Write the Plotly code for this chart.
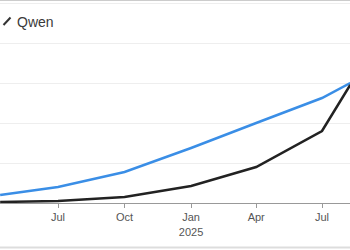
import plotly.graph_objects as go

dates = ["2024-04-12", "2024-07-01", "2024-10-01", "2025-01-01", "2025-04-01", "2025-07-01", "2025-08-09"]
other_vals = [4, 8, 15.5, 27.5, 40, 52.5, 60]
qwen_vals = [0.5, 1, 3, 8.5, 18, 36, 59]

tick_dates = ["2024-07-01", "2024-10-01", "2025-01-01", "2025-04-01", "2025-07-01"]
tick_labels = ["Jul", "Oct", "Jan<br>2025", "Apr", "Jul"]

PLOT_H = 203.0

fig = go.Figure()
fig.add_trace(go.Scatter(x=dates, y=other_vals, mode="lines",
                         line=dict(color="#3a8ee6", width=2.5), showlegend=False))
fig.add_trace(go.Scatter(x=dates, y=qwen_vals, mode="lines",
                         line=dict(color="#222222", width=2.5), showlegend=False))

fig.update_layout(
    width=350, height=250,
    margin=dict(l=0, r=0, t=0, b=47),
    paper_bgcolor="white", plot_bgcolor="white",
    font=dict(family="Liberation Sans, Arial, sans-serif", color="#555555", size=11),
    xaxis=dict(type="date", range=["2024-04-11T19:00", "2025-08-08T17:00"],
               tickvals=tick_dates, ticktext=tick_labels,
               showgrid=False, showline=True, linecolor="#999999", linewidth=1,
               ticks="outside", ticklen=4, tickcolor="#999999", zeroline=False),
    yaxis=dict(range=[0, 101.5], dtick=20, showticklabels=False,
               showgrid=True, gridcolor="#eeeeee", zeroline=False, showline=False),
    annotations=[dict(text="Qwen", x=15 / 350, y=1 - 21.5 / PLOT_H,
                      xref="paper", yref="paper",
                      yanchor="middle", xanchor="left", showarrow=False,
                      font=dict(size=14, color="#3a3a3a", weight=500))],
    shapes=[
        dict(type="line", xref="paper", yref="paper", x0=0, x1=1, y0=1, y1=1,
             line=dict(color="#cccccc", width=2)),
        dict(type="line", xref="paper", yref="paper", x0=0, x1=1,
             y0=1 - 247.5 / PLOT_H, y1=1 - 247.5 / PLOT_H,
             line=dict(color="#dddddd", width=2)),
        dict(type="line", xref="paper", yref="paper",
             x0=3.5 / 350, x1=10.5 / 350,
             y0=1 - 25 / PLOT_H, y1=1 - 17.5 / PLOT_H,
             line=dict(color="#333333", width=2)),
    ],
)
fig.write_html("out.html")
